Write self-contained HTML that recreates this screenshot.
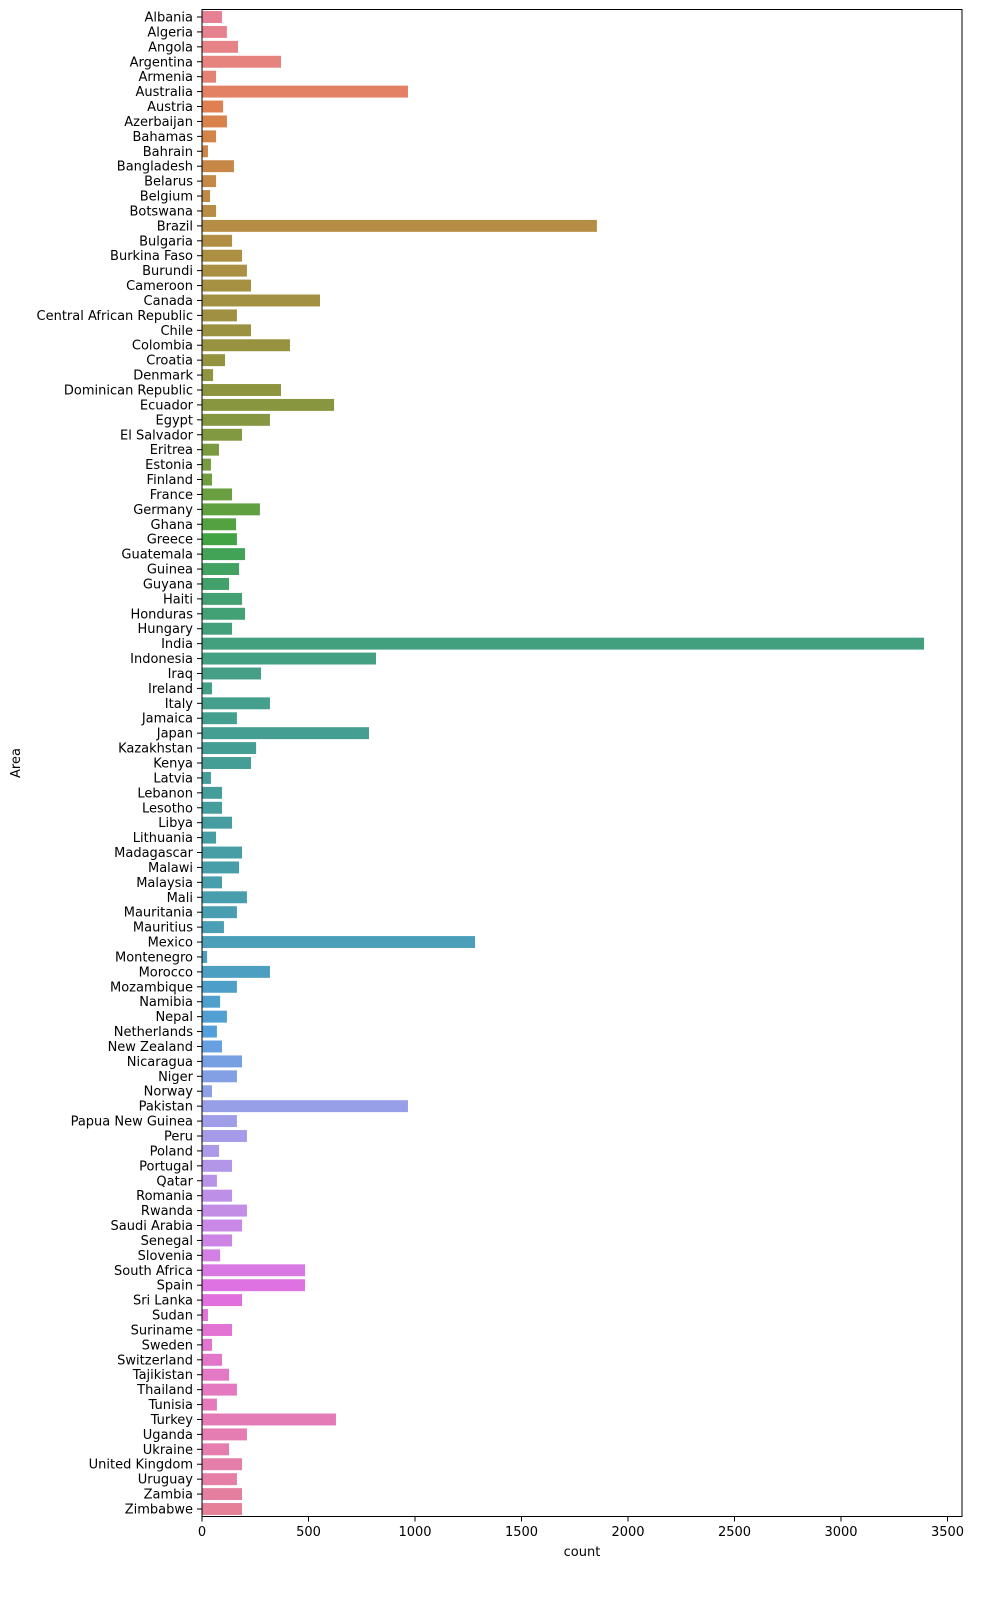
<!DOCTYPE html>
<html><head><meta charset="utf-8"><style>
html,body{margin:0;padding:0;background:#fff;}
svg text{font-family:"DejaVu Sans","Liberation Sans",sans-serif;fill:#000;}
</style></head><body>
<svg id="chart" width="995" height="1600" viewBox="0 0 995 1600" xmlns="http://www.w3.org/2000/svg">
<rect width="995" height="1600" fill="#fff"/>
<g id="bars"></g>
<g id="yaxis"></g>
<g id="xaxis"></g>
<rect x="202" y="9.5" width="760" height="1507" fill="none" stroke="#000" stroke-width="1"/>
<text x="582" y="1556" font-size="13" text-anchor="middle">count</text>
<text x="20" y="763" font-size="13" text-anchor="middle" transform="rotate(-90 20 763)">Area</text>
</svg>
<script>
const categories = ["Albania","Algeria","Angola","Argentina","Armenia","Australia","Austria","Azerbaijan","Bahamas","Bahrain","Bangladesh","Belarus","Belgium","Botswana","Brazil","Bulgaria","Burkina Faso","Burundi","Cameroon","Canada","Central African Republic","Chile","Colombia","Croatia","Denmark","Dominican Republic","Ecuador","Egypt","El Salvador","Eritrea","Estonia","Finland","France","Germany","Ghana","Greece","Guatemala","Guinea","Guyana","Haiti","Honduras","Hungary","India","Indonesia","Iraq","Ireland","Italy","Jamaica","Japan","Kazakhstan","Kenya","Latvia","Lebanon","Lesotho","Libya","Lithuania","Madagascar","Malawi","Malaysia","Mali","Mauritania","Mauritius","Mexico","Montenegro","Morocco","Mozambique","Namibia","Nepal","Netherlands","New Zealand","Nicaragua","Niger","Norway","Pakistan","Papua New Guinea","Peru","Poland","Portugal","Qatar","Romania","Rwanda","Saudi Arabia","Senegal","Slovenia","South Africa","Spain","Sri Lanka","Sudan","Suriname","Sweden","Switzerland","Tajikistan","Thailand","Tunisia","Turkey","Uganda","Ukraine","United Kingdom","Uruguay","Zambia","Zimbabwe"];
const counts = [94,117,169,371,66,967,99,117,66,28,150,66,38,66,1854,141,188,211,230,554,164,230,413,108,52,371,620,319,188,80,42,47,141,272,160,164,202,174,127,188,202,141,3390,817,277,47,319,164,784,254,230,42,94,94,141,66,188,174,94,211,164,103,1282,24,319,164,85,117,70,94,188,164,47,967,164,211,80,141,70,141,211,188,141,85,484,484,188,28,141,47,94,127,164,70,629,211,127,188,164,188,188];
const xTicks = [0,500,1000,1500,2000,2500,3000,3500];

const X0=202, PXU=745.5/3500, Y0=17, STEP=(1509-17)/100, BH=STEP*0.8;
const xs = v => X0 + v*PXU;
const ys = i => Y0 + i*STEP;
const NS="http://www.w3.org/2000/svg";

const M=[[3.240969941904521,-1.537383177570093,-0.498610760293],[-0.96924363628087,1.87596750150772,0.041555057407175],[0.055630079696993,-0.20397695888897,1.056971514242878]];
const KAPPA=903.2962962,EPS=0.0088564516,REFU=0.19783000664283,REFV=0.46831999493879;
function maxChroma(L,H){const sub1=Math.pow(L+16,3)/1560896,sub2=sub1>EPS?sub1:L/KAPPA;const h=H/360*2*Math.PI;let mn=Infinity;
for(const [m1,m2,m3] of M){for(const t of [0,1]){const top1=(284517*m1-94839*m3)*sub2;const top2=(838422*m3+769860*m2+731718*m1)*L*sub2-769860*t*L;const bot=(632260*m3-126452*m2)*sub2+126452*t;const sl=top1/bot,ic=top2/bot;const len=ic/(Math.sin(h)-sl*Math.cos(h));if(len>=0)mn=Math.min(mn,len);}}return mn;}
function husl(H,S,L){const C=maxChroma(L,H)/100*S;const h=H/360*2*Math.PI;const U=C*Math.cos(h),V=C*Math.sin(h);
const vu=U/(13*L)+REFU,vv=V/(13*L)+REFV;const Y=L<=8?L/KAPPA:Math.pow((L+16)/116,3);const X=0-(9*Y*vu)/((vu-4)*vv-vu*vv);const Z=(9*Y-15*vv*Y-vv*X)/(3*vv);
return M.map(r=>{const c=r[0]*X+r[1]*Y+r[2]*Z;const v=c<=0.0031308?12.92*c:1.055*Math.pow(c,1/2.4)-0.055;return Math.min(1,Math.max(0,v));});}
function rgb2hls(r,g,b){const mx=Math.max(r,g,b),mn=Math.min(r,g,b);const l=(mx+mn)/2;if(mx===mn)return[0,l,0];const d=mx-mn;const s=l<=0.5?d/(mx+mn):d/(2-mx-mn);
const rc=(mx-r)/d,gc=(mx-g)/d,bc=(mx-b)/d;let h=r===mx?bc-gc:g===mx?2+rc-bc:4+gc-rc;h=(h/6)%1;if(h<0)h+=1;return[h,l,s];}
function v_(m1,m2,h){h=((h%1)+1)%1;if(h<1/6)return m1+(m2-m1)*h*6;if(h<0.5)return m2;if(h<2/3)return m1+(m2-m1)*(2/3-h)*6;return m1;}
function hls2rgb(h,l,s){if(s===0)return[l,l,l];const m2=l<=0.5?l*(1+s):l+s-l*s;const m1=2*l-m2;return[v_(m1,m2,h+1/3),v_(m1,m2,h),v_(m1,m2,h-1/3)];}
function color(i,n){let h=(i/n+0.01)%1;const rgb=husl(h*359,0.9*99,0.65*99);const [hh,ll,ss]=rgb2hls(...rgb);const c=hls2rgb(hh,ll,ss*0.75);
return "rgb("+c.map(x=>Math.round(x*255)).join(",")+")";}

const gB=document.getElementById("bars"),gY=document.getElementById("yaxis"),gX=document.getElementById("xaxis");
categories.forEach((c,i)=>{
  const r=document.createElementNS(NS,"rect");
  
  
  r.setAttribute("x",xs(0));r.setAttribute("y",ys(i)-BH/2);
  r.setAttribute("width",Math.max(0,xs(counts[i])-xs(0)));r.setAttribute("height",BH);
  r.setAttribute("fill",color(i,categories.length));
  gB.appendChild(r);
  const tk=document.createElementNS(NS,"line");
  
  
  tk.setAttribute("x1",X0-5);tk.setAttribute("x2",X0);tk.setAttribute("y1",ys(i));tk.setAttribute("y2",ys(i));tk.setAttribute("stroke","#000");
  gY.appendChild(tk);
  const t=document.createElementNS(NS,"text");
  
  
  t.setAttribute("x",X0-9);t.setAttribute("y",ys(i)+4.5);t.setAttribute("font-size","13");t.setAttribute("text-anchor","end");
  t.textContent=c;gY.appendChild(t);
});
xTicks.forEach(v=>{
  const tk=document.createElementNS(NS,"line");
  
  
  tk.setAttribute("x1",xs(v));tk.setAttribute("x2",xs(v));tk.setAttribute("y1",1516.5);tk.setAttribute("y2",1521.5);tk.setAttribute("stroke","#000");
  gX.appendChild(tk);
  const t=document.createElementNS(NS,"text");
  
  
  t.setAttribute("x",xs(v));t.setAttribute("y",1536);t.setAttribute("font-size","13");t.setAttribute("text-anchor","middle");
  t.textContent=v;gX.appendChild(t);
});
</script>
</body></html>
